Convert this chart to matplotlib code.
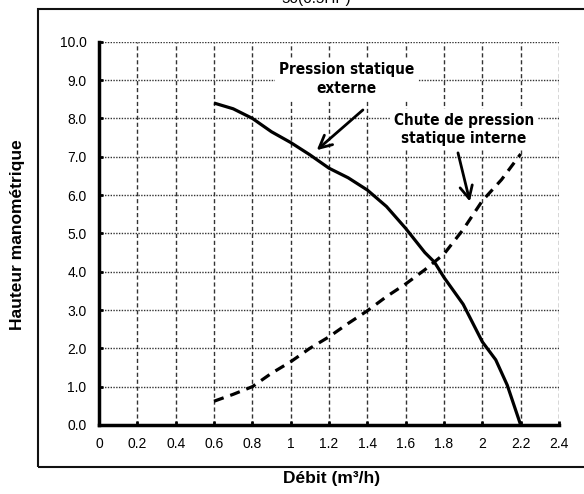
import matplotlib
matplotlib.use("Agg")
import matplotlib.pyplot as plt
from matplotlib.patches import Rectangle

# courbe pression statique externe (trait plein)
ext_x = [0.6, 0.7, 0.8, 0.9, 1.0, 1.1, 1.2, 1.3, 1.4, 1.5, 1.6, 1.7, 1.75, 1.8, 1.9, 2.0, 2.07, 2.13, 2.2]
ext_y = [8.40, 8.25, 8.0, 7.65, 7.37, 7.05, 6.70, 6.45, 6.13, 5.70, 5.13, 4.50, 4.25, 3.85, 3.15, 2.17, 1.70, 1.04, 0.0]

# chute de pression statique interne (pointillés)
int_x = [0.6, 0.7, 0.8, 0.9, 1.0, 1.1, 1.2, 1.3, 1.4, 1.5, 1.6, 1.7, 1.8, 1.9, 2.0, 2.1, 2.2]
int_y = [0.62, 0.80, 1.0, 1.35, 1.65, 2.0, 2.3, 2.65, 2.98, 3.35, 3.68, 4.05, 4.46, 5.1, 5.85, 6.4, 7.07]

x_ticks = [0, 0.2, 0.4, 0.6, 0.8, 1.0, 1.2, 1.4, 1.6, 1.8, 2.0, 2.2, 2.4]
x_labels = ["0", "0.2", "0.4", "0.6", "0.8", "1", "1.2", "1.4", "1.6", "1.8", "2", "2.2", "2.4"]
y_ticks = [0, 1, 2, 3, 4, 5, 6, 7, 8, 9, 10]

plt.rcParams["font.family"] = ["Liberation Sans", "DejaVu Sans"]

W, H = 584, 494
fig = plt.figure(figsize=(W / 100, H / 100), dpi=100)
ax = fig.add_axes([99 / W, 1 - 425 / H, 460 / W, 383.3 / H])

# cadre extérieur
fig.patches.append(Rectangle((38 / W, 1 - 467 / H), 600 / W, 458 / H,
                             transform=fig.transFigure, fill=False,
                             ec="#111111", lw=1.5))
fig.text(316 / W, 1 + 1 / H, "50(0.5HP)", ha="center", va="center", fontsize=11)

for yv in y_ticks[1:]:
    ax.axhline(yv, color="#333333", lw=1, ls=(0, (1, 1)), zorder=1)
for xv in x_ticks[1:]:
    ax.axvline(xv, color="#333333", lw=1, ls=(0, (3, 2)), zorder=1)

ax.plot(ext_x, ext_y, color="black", lw=2.3, zorder=3, solid_capstyle="butt")
ax.plot(int_x, int_y, color="black", lw=2.3, ls=(0, (3.2, 2.2)), zorder=3)

ax.set_xlim(0, 2.4)
ax.set_ylim(0, 10)
ax.set_xticks(x_ticks)
ax.set_xticklabels(x_labels)
ax.set_yticks(y_ticks)
ax.set_yticklabels([f"{v:.1f}" for v in y_ticks])
ax.tick_params(direction="in", length=3, width=2, labelsize=10, pad=9)
for s in ["top", "right"]:
    ax.spines[s].set_visible(False)
for s in ["left", "bottom"]:
    ax.spines[s].set_linewidth(2.5)

fig.text(332 / W, 1 - 478 / H, "Débit (m³/h)", ha="center", va="center",
         fontsize=12.5, fontweight="bold")
fig.text(18 / W, 1 - 235 / H, "Hauteur manométrique", ha="center", va="center",
         rotation=90, fontsize=12.5, fontweight="bold")

box = dict(fc="white", ec="none", pad=3)
lab = dict(ha="center", va="center", family="DejaVu Sans", fontstretch="condensed",
           fontweight="bold", fontsize=11, linespacing=1.3, bbox=box, zorder=4)
ax.text(1.291, 9.02, "Pression statique\nexterne", **lab)
ax.text(1.904, 7.71, "Chute de pression\nstatique interne", **lab)

arrow = dict(arrowstyle="->,head_length=0.9,head_width=0.45", lw=2, color="black",
             shrinkA=0, shrinkB=0)
ax.annotate("", xy=(1.136, 7.17), xytext=(1.377, 8.22), arrowprops=arrow, zorder=5)
ax.annotate("", xy=(1.935, 5.83), xytext=(1.873, 7.10), arrowprops=arrow, zorder=5)

fig.savefig("out.png", dpi=100)
